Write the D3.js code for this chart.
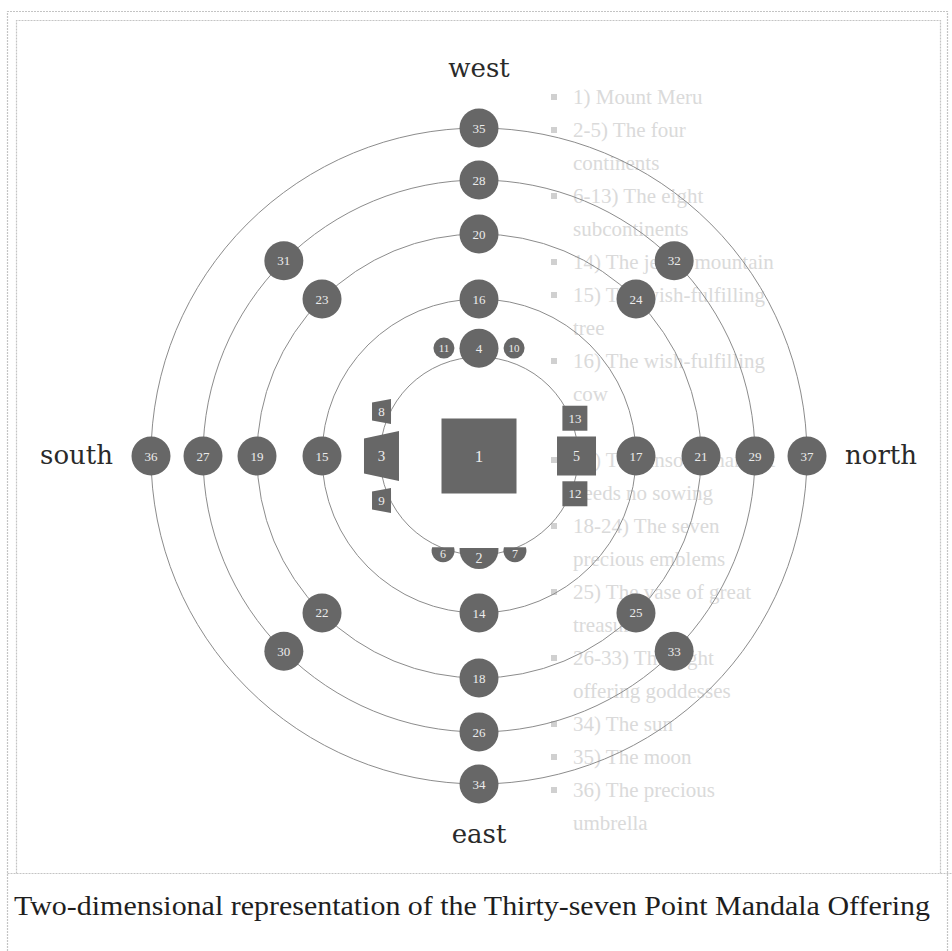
<!DOCTYPE html>
<html>
<head>
<meta charset="utf-8">
<script src="https://cdnjs.cloudflare.com/ajax/libs/d3/7.8.5/d3.min.js"></script>
<style>
html, body { margin: 0; padding: 0; background: #fff; }
svg { display: block; }
</style>
</head>
<body>
<script>
// the 37 points: id, ring position (0 = centre, 1..5 = the five circles), angle in degrees
// (0 = north on the right, 90 = east at the bottom, 180 = south, 270 = west at the top)
var nodeIds = d3.range(1, 38);
var nodeRing = [0, 0.93, 0.985, 1.15, 0.985, 0.99, 0.99, 1.14, 1.14, 1.25, 1.25, 1.07, 1.07,
	2, 2, 2, 2, 3, 3, 3, 3, 3, 3, 3, 3, 4, 4, 4, 4, 4, 4, 4, 4, 5, 5, 5, 5];
var nodeAngle = [0, 90, 180, 270, 0, 111.5, 68.5, 204.5, 155.5, 288, 252, 21.5, 338.5,
	90, 180, 270, 0, 90, 180, 270, 0, 135, 225, 315, 45, 90, 180, 270, 0, 135, 225, 315, 45,
	90, 270, 180, 0];
var nodeShape = ["meru", "half", "trap", "circle", "square", "halfSmall", "halfSmall", "trapSmall", "trapSmall",
	"circleSmall", "circleSmall", "squareSmall", "squareSmall",
	"circle", "circle", "circle", "circle", "circle", "circle", "circle", "circle",
	"circle", "circle", "circle", "circle", "circle", "circle", "circle", "circle",
	"circle", "circle", "circle", "circle", "circle", "circle", "circle", "circle"];

var directions = ["north", "east", "south", "west"];
var directionAngle = [0, 90, 180, 270];

var caption = "Two-dimensional representation of the Thirty-seven Point Mandala Offering";

// text showing through from the other side of the page
var throughLines = ["1) Mount Meru", "2-5) The four", "continents", "6-13) The eight", "subcontinents",
	"14) The jewel mountain", "15) The wish-fulfilling", "tree", "16) The wish-fulfilling", "cow",
	"", "17) The unsown harvest", "needs no sowing", "18-24) The seven", "precious emblems",
	"25) The vase of great", "treasure", "26-33) The eight", "offering goddesses",
	"34) The sun", "35) The moon", "36) The precious", "umbrella"];
var throughBullet = [1, 1, 0, 1, 0, 1, 1, 0, 1, 0, 0, 1, 0, 1, 0, 1, 0, 1, 0, 1, 1, 1, 0];

var width = 952, height = 951;
var cx = 479, cy = 456;

var r = d3.scaleLinear().domain([0, 1, 2, 3, 4, 5]).range([0, 99, 157, 222, 276, 328]);
var lineY = d3.scaleLinear().domain([0, 1]).range([97, 130]);

var fill = "#676767";

var svg = d3.select("body").append("svg")
	.attr("width", width)
	.attr("height", height);

// bleed-through
var through = svg.append("g").attr("class", "through")
	.attr("font-family", "'Liberation Serif', serif")
	.attr("font-size", "21px")
	.attr("fill", "#dadada");
through.selectAll("text.line").data(throughLines).enter().append("text")
	.attr("class", "line")
	.attr("x", 573)
	.attr("y", function(d, i) { return lineY(i) + 7; })
	.text(function(d) { return d; });
through.selectAll("rect.bullet").data(throughBullet.map(function(b, i) { return { b: b, i: i }; })
	.filter(function(d) { return d.b; })).enter().append("rect")
	.attr("class", "bullet")
	.attr("x", 551)
	.attr("y", function(d) { return lineY(d.i) - 3; })
	.attr("width", 6)
	.attr("height", 6)
	.attr("fill", "#d0d0d0");

// frame
var frame = svg.append("g").attr("fill", "none").attr("stroke", "#c4c4c4").attr("stroke-width", 1.2)
	.attr("stroke-dasharray", "2,1");
frame.append("path").attr("d", "M7.5," + height + "V11.5H947.5V" + height);
frame.append("path").attr("d", "M16.5,873.5V20.5H940.5V873.5");
frame.append("path").attr("d", "M7.5,873.5H" + width);

// rings
svg.append("g").selectAll("circle").data([1, 2, 3, 4, 5]).enter().append("circle")
	.attr("cx", cx)
	.attr("cy", cy)
	.attr("r", function(d) { return r(d); })
	.attr("fill", "none")
	.attr("stroke", "#8c8c8c")
	.attr("stroke-width", 1);

function pos(i) {
	var a = nodeAngle[i] * Math.PI / 180;
	var d = r(nodeRing[i]);
	return { x: cx + d * Math.cos(a), y: cy + d * Math.sin(a) };
}

function trapezoid(x, y, w, hOut, hIn) {
	return "M" + (x - w / 2) + "," + (y - hOut / 2) + "L" + (x + w / 2) + "," + (y - hIn / 2)
		+ "L" + (x + w / 2) + "," + (y + hIn / 2) + "L" + (x - w / 2) + "," + (y + hOut / 2) + "Z";
}

function segment(x, y, rad, drop) {
	// circle cut by a horizontal chord at (x, y), the circle centre lies drop px below the chord
	var w = Math.sqrt(rad * rad - drop * drop);
	var large = drop > 0 ? 1 : 0;
	return "M" + (x - w) + "," + y + "A" + rad + "," + rad + " 0 " + large + " 0 " + (x + w) + "," + y + "Z";
}

function square(x, y, s) {
	return "M" + (x - s / 2) + "," + (y - s / 2) + "h" + s + "v" + s + "h" + (-s) + "Z";
}

function circle(x, y, rad) {
	return "M" + (x - rad) + "," + y + "A" + rad + "," + rad + " 0 1 0 " + (x + rad) + "," + y
		+ "A" + rad + "," + rad + " 0 1 0 " + (x - rad) + "," + y + "Z";
}

var shapes = {
	meru: function(p) { return square(p.x, p.y, 75); },
	half: function(p) { return segment(p.x, p.y, 19.5, 1.5); },
	halfSmall: function(p) { return segment(p.x, p.y, 11.5, 3.5); },
	trap: function(p) { return trapezoid(p.x, p.y, 35, 35, 50); },
	trapSmall: function(p) { return trapezoid(p.x, p.y, 19, 18, 25); },
	square: function(p) { return square(p.x, p.y, 39); },
	squareSmall: function(p) { return square(p.x, p.y, 25); },
	circle: function(p) { return circle(p.x, p.y, 19.5); },
	circleSmall: function(p) { return circle(p.x, p.y, 10.5); }
};

// where the number sits relative to the anchor
var labelDy = { half: 10, halfSmall: 7 };
var labelSize = { meru: 17, trap: 15, square: 14, half: 14, circle: 13, squareSmall: 13, trapSmall: 13,
	circleSmall: 11, halfSmall: 12 };

var nodes = svg.append("g").selectAll("g.node").data(nodeIds).enter().append("g").attr("class", "node");

nodes.append("path")
	.attr("d", function(d, i) { return shapes[nodeShape[i]](pos(i)); })
	.attr("fill", fill);

nodes.append("text")
	.attr("x", function(d, i) { return pos(i).x; })
	.attr("y", function(d, i) { return pos(i).y + (labelDy[nodeShape[i]] || 0); })
	.attr("text-anchor", "middle")
	.attr("dominant-baseline", "central")
	.attr("font-family", "'Liberation Serif', serif")
	.attr("font-size", function(d, i) { return labelSize[nodeShape[i]] + "px"; })
	.attr("fill", "#ececec")
	.text(function(d) { return d; });

// compass labels
var dirGap = { north: 38, south: 38, west: 51, east: 59 };
svg.append("g").selectAll("text").data(directions).enter().append("text")
	.attr("x", function(d, i) {
		var a = directionAngle[i] * Math.PI / 180;
		return cx + Math.cos(a) * (r(5) + dirGap[d]);
	})
	.attr("y", function(d, i) {
		var a = directionAngle[i] * Math.PI / 180;
		var y = cy + Math.sin(a) * (r(5) + dirGap[d]);
		return Math.abs(Math.sin(a)) > 0.5 ? y : y + 8;
	})
	.attr("text-anchor", function(d) { return d == "north" ? "start" : d == "south" ? "end" : "middle"; })
	.attr("font-family", "'DejaVu Serif', serif")
	.attr("font-size", "26px")
	.attr("fill", "#2a2a2a")
	.text(function(d) { return d; });

// caption
svg.append("text")
	.attr("x", 14)
	.attr("y", 915)
	.attr("font-family", "'Liberation Serif', serif")
	.attr("font-size", "28px")
	.attr("fill", "#1e1e1e")
	.attr("textLength", 916)
	.attr("lengthAdjust", "spacingAndGlyphs")
	.text(caption);
</script>
</body>
</html>
